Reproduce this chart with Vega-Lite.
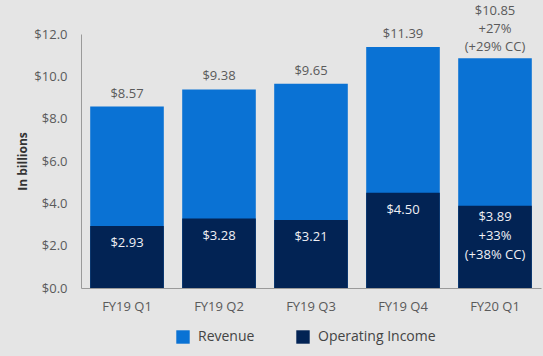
{
  "$schema": "https://vega.github.io/schema/vega-lite/v6.json",
  "width": 460,
  "height": 254,
  "autosize": {"type": "none"},
  "padding": {"left": 81, "top": 34, "right": 2, "bottom": 68},
  "background": "#e5e5e5",
  "config": {
    "view": {"stroke": null},
    "font": "Open Sans",
    "axis": {"labelFont": "Open Sans", "titleFont": "Open Sans"}
  },
  "data": {
    "values": [
      {"quarter": "FY19 Q1", "measure": "Revenue", "value": 8.57, "label": "$8.57"},
      {"quarter": "FY19 Q2", "measure": "Revenue", "value": 9.38, "label": "$9.38"},
      {"quarter": "FY19 Q3", "measure": "Revenue", "value": 9.65, "label": "$9.65"},
      {"quarter": "FY19 Q4", "measure": "Revenue", "value": 11.39, "label": "$11.39"},
      {"quarter": "FY20 Q1", "measure": "Revenue", "value": 10.85, "label": "$10.85\n+27%\n(+29% CC)"},
      {"quarter": "FY19 Q1", "measure": "Operating Income", "value": 2.93, "label": "$2.93"},
      {"quarter": "FY19 Q2", "measure": "Operating Income", "value": 3.28, "label": "$3.28"},
      {"quarter": "FY19 Q3", "measure": "Operating Income", "value": 3.21, "label": "$3.21"},
      {"quarter": "FY19 Q4", "measure": "Operating Income", "value": 4.50, "label": "$4.50"},
      {"quarter": "FY20 Q1", "measure": "Operating Income", "value": 3.89, "label": "$3.89\n+33%\n(+38% CC)"}
    ]
  },
  "encoding": {
    "x": {
      "field": "quarter",
      "type": "nominal",
      "sort": null,
      "scale": {"paddingInner": 0.2, "paddingOuter": 0.1},
      "axis": {
        "title": null,
        "labelAngle": 0,
        "ticks": false,
        "labelPadding": 12,
        "labelFontSize": 13,
        "labelColor": "#5a5a5a",
        "domainColor": "#9a9a9a",
        "domainWidth": 1
      }
    },
    "y": {
      "field": "value",
      "type": "quantitative",
      "stack": null,
      "scale": {"domain": [0, 12]},
      "axis": {
        "title": "In billions",
        "titleFontSize": 12,
        "titleFontWeight": "bold",
        "titleColor": "#333333",
        "titlePadding": 4,
        "values": [0, 2, 4, 6, 8, 10, 12],
        "format": "$.1f",
        "grid": false,
        "ticks": false,
        "labelPadding": 14,
        "labelFontSize": 13,
        "labelColor": "#5a5a5a",
        "domainColor": "#9a9a9a",
        "domainWidth": 1
      }
    }
  },
  "layer": [
    {
      "mark": {"type": "bar"},
      "encoding": {
        "color": {
          "field": "measure",
          "type": "nominal",
          "scale": {"domain": ["Revenue", "Operating Income"], "range": ["#0a72d4", "#022354"]},
          "legend": {
            "title": null,
            "orient": "none",
            "direction": "horizontal",
            "legendX": 95,
            "legendY": 296,
            "symbolType": "square",
            "symbolSize": 180,
            "symbolStrokeWidth": 0,
            "labelFontSize": 14,
            "labelColor": "#444444",
            "labelOffset": 8,
            "columnPadding": 41
          }
        }
      }
    },
    {
      "transform": [{"filter": "datum.measure == 'Revenue' && datum.quarter != 'FY20 Q1'"}],
      "mark": {"type": "text", "baseline": "bottom", "dy": -6, "fontSize": 13, "color": "#5a5a5a"},
      "encoding": {"text": {"field": "label"}}
    },
    {
      "transform": [{"filter": "datum.measure == 'Revenue' && datum.quarter == 'FY20 Q1'"}],
      "mark": {"type": "text", "baseline": "bottom", "dy": -40, "fontSize": 13, "color": "#5a5a5a", "lineBreak": "\n", "lineHeight": 18},
      "encoding": {"text": {"field": "label"}}
    },
    {
      "transform": [{"filter": "datum.measure == 'Operating Income' && datum.quarter != 'FY20 Q1'"}],
      "mark": {"type": "text", "baseline": "top", "dy": 11, "fontSize": 13, "color": "#f0f0f5"},
      "encoding": {"text": {"field": "label"}}
    },
    {
      "transform": [{"filter": "datum.measure == 'Operating Income' && datum.quarter == 'FY20 Q1'"}],
      "mark": {"type": "text", "baseline": "top", "dy": 5, "fontSize": 13, "color": "#f0f0f5", "lineBreak": "\n", "lineHeight": 19},
      "encoding": {"text": {"field": "label"}}
    }
  ]
}
